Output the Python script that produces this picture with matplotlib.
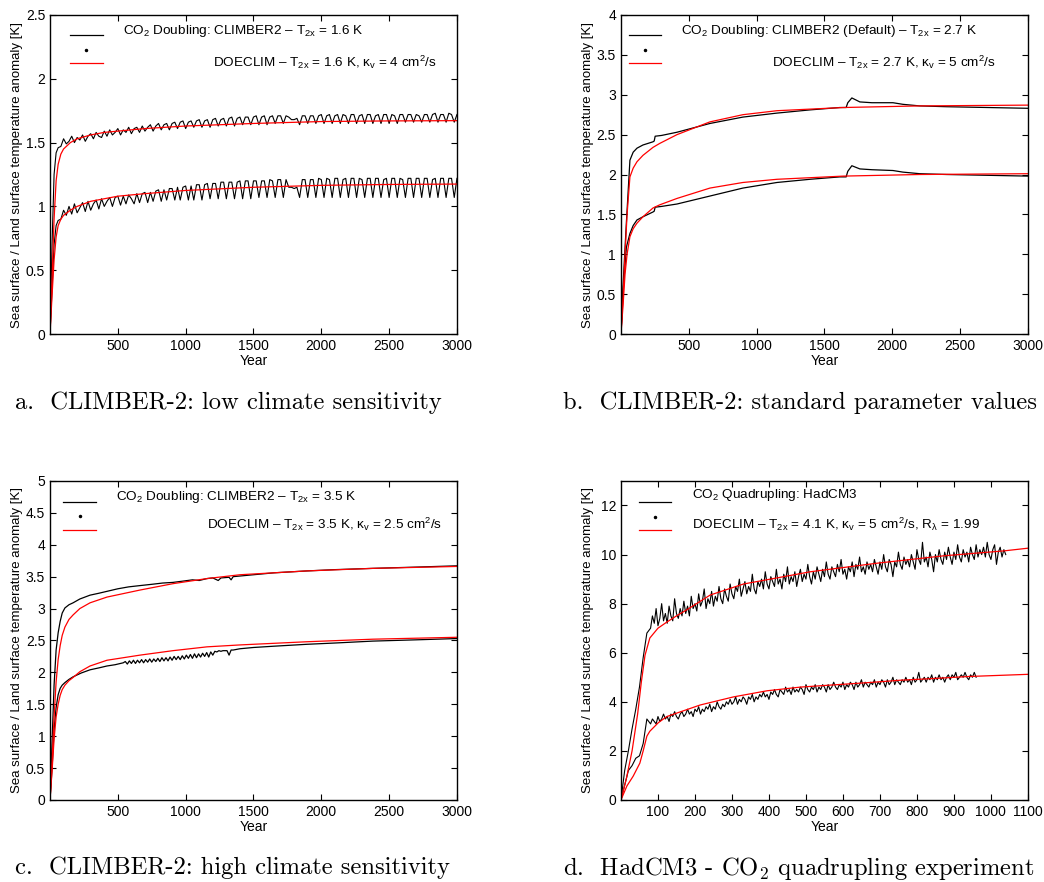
import numpy as np
import matplotlib.pyplot as plt
from matplotlib.lines import Line2D

plt.rcParams['font.family'] = ['Liberation Sans', 'DejaVu Sans']
plt.rcParams['mathtext.fontset'] = 'custom'
plt.rcParams['mathtext.rm'] = 'Liberation Sans'
plt.rcParams['mathtext.it'] = 'Liberation Sans:italic'
plt.rcParams['mathtext.bf'] = 'Liberation Sans:bold'
plt.rcParams['mathtext.sf'] = 'Liberation Sans'

# ---------------- panel a: CLIMBER-2 low sensitivity ----------------
a_years = [0, 15, 30, 45, 60] + list(range(80, 3001, 20))
a_black_hi = [0, 0.70, 1.25, 1.42, 1.46,
              1.47, 1.53, 1.49, 1.51, 1.55, 1.50, 1.54, 1.52, 1.56, 1.51,
              1.55, 1.57, 1.53, 1.58, 1.55, 1.54, 1.59, 1.55, 1.60, 1.56,
              1.58, 1.61, 1.56, 1.60, 1.58, 1.62, 1.57, 1.61, 1.62, 1.58,
              1.63, 1.59, 1.62, 1.64, 1.59, 1.63, 1.65, 1.60, 1.64, 1.65,
              1.60, 1.65, 1.66, 1.61, 1.66, 1.67, 1.61, 1.66, 1.67, 1.62,
              1.67, 1.68, 1.62, 1.67, 1.68, 1.62, 1.68, 1.69, 1.63, 1.68,
              1.69, 1.63, 1.69, 1.70, 1.63, 1.69, 1.70, 1.64, 1.70, 1.70,
              1.64, 1.70, 1.71, 1.64, 1.70, 1.71, 1.64, 1.70, 1.71, 1.65,
              1.71, 1.71, 1.65, 1.71, 1.70, 1.68, 1.68, 1.69, 1.64, 1.71,
              1.71, 1.65, 1.71, 1.71, 1.65, 1.71, 1.72, 1.65, 1.71, 1.72,
              1.65, 1.71, 1.72, 1.65, 1.72, 1.71, 1.65, 1.72, 1.72, 1.65,
              1.71, 1.72, 1.65, 1.72, 1.72, 1.65, 1.71, 1.72, 1.65, 1.72,
              1.72, 1.65, 1.72, 1.71, 1.65, 1.72, 1.72, 1.66, 1.72, 1.72,
              1.66, 1.72, 1.71, 1.66, 1.72, 1.72, 1.66, 1.72, 1.73, 1.66,
              1.72, 1.72, 1.66, 1.73, 1.72, 1.66, 1.72]
a_black_lo = [0, 0.35, 0.70, 0.85, 0.89,
              0.90, 0.97, 0.93, 1.00, 0.94, 1.02, 0.95, 0.99, 1.03, 0.96,
              1.04, 0.97, 1.02, 1.05, 0.98, 1.06, 1.00, 1.04, 1.07, 1.00,
              1.07, 1.08, 1.01, 1.08, 1.02, 1.09, 1.06, 1.02, 1.10, 1.03,
              1.10, 1.11, 1.03, 1.11, 1.04, 1.12, 1.13, 1.04, 1.13, 1.05,
              1.14, 1.14, 1.05, 1.15, 1.05, 1.15, 1.16, 1.05, 1.16, 1.05,
              1.17, 1.17, 1.05, 1.17, 1.18, 1.06, 1.18, 1.18, 1.06, 1.19,
              1.19, 1.06, 1.19, 1.19, 1.06, 1.19, 1.20, 1.06, 1.20, 1.20,
              1.06, 1.20, 1.20, 1.07, 1.20, 1.20, 1.07, 1.21, 1.20, 1.07,
              1.21, 1.21, 1.07, 1.21, 1.15, 1.15, 1.14, 1.15, 1.07, 1.21,
              1.21, 1.07, 1.21, 1.21, 1.07, 1.22, 1.21, 1.07, 1.22, 1.21,
              1.07, 1.22, 1.22, 1.07, 1.21, 1.22, 1.07, 1.22, 1.22, 1.07,
              1.22, 1.21, 1.07, 1.22, 1.22, 1.07, 1.22, 1.22, 1.07, 1.21,
              1.22, 1.07, 1.22, 1.22, 1.07, 1.22, 1.21, 1.07, 1.22, 1.22,
              1.07, 1.22, 1.22, 1.07, 1.22, 1.22, 1.07, 1.21, 1.22, 1.07,
              1.22, 1.22, 1.07, 1.22, 1.22, 1.07, 1.22]
a_red_years = [0, 15, 30, 45, 60, 80, 100, 150, 200, 300, 400, 500, 700,
               1000, 1500, 2000, 2500, 3000]
a_red_hi = [0, 0.45, 0.90, 1.20, 1.33, 1.41, 1.45, 1.50, 1.53, 1.56, 1.58,
            1.59, 1.61, 1.63, 1.65, 1.665, 1.67, 1.672]
a_red_lo = [0, 0.30, 0.58, 0.76, 0.85, 0.90, 0.93, 0.97, 1.00, 1.04, 1.06,
            1.08, 1.10, 1.125, 1.15, 1.165, 1.172, 1.175]

# ---------------- panel b: CLIMBER-2 default ----------------
b_black_years = [0, 15, 40, 66, 90, 118, 162, 236, 245, 252, 300, 413, 656,
                 899, 1150, 1393, 1614, 1660, 1672, 1702, 1761, 1850, 2005,
                 2078, 2203, 2400, 2700, 3000]
b_black_hi = [0, 0.60, 1.40, 2.18, 2.28, 2.33, 2.37, 2.41, 2.42, 2.48, 2.49,
              2.53, 2.64, 2.72, 2.77, 2.81, 2.84, 2.84, 2.90, 2.96, 2.91,
              2.90, 2.90, 2.88, 2.86, 2.85, 2.84, 2.83]
b_black_lo = [0, 0.51, 1.09, 1.26, 1.36, 1.43, 1.47, 1.53, 1.54, 1.59, 1.60,
              1.63, 1.73, 1.83, 1.90, 1.94, 1.97, 1.97, 2.04, 2.11, 2.07,
              2.06, 2.05, 2.03, 2.01, 2.00, 1.99, 1.98]
b_red_years = [0, 15, 30, 45, 66, 90, 118, 162, 236, 286, 413, 656, 899,
               1150, 1640, 2200, 3000]
b_red_hi = [0, 0.45, 1.00, 1.50, 1.97, 2.08, 2.16, 2.24, 2.34, 2.39, 2.50,
            2.66, 2.75, 2.80, 2.84, 2.86, 2.87]
b_red_lo = [0, 0.35, 0.75, 1.00, 1.22, 1.32, 1.39, 1.47, 1.58, 1.62, 1.70,
            1.83, 1.90, 1.94, 1.98, 2.00, 2.01]

# ---------------- panel c: CLIMBER-2 high sensitivity ----------------
c_hi_years = [0, 15, 30, 45, 60, 75, 90, 110, 140, 170, 220, 295, 360, 420,
              500, 580, 663, 750, 830, 906, 980, 1050, 1100, 1157, 1200, 1240,
              1260, 1320, 1335, 1350, 1400, 1500, 1650, 1894, 2100, 2380,
              2700, 3000]
c_black_hi = [0, 0.90, 1.80, 2.35, 2.62, 2.80, 2.93, 3.01, 3.06, 3.09, 3.15,
              3.21, 3.24, 3.27, 3.31, 3.34, 3.36, 3.38, 3.40, 3.41, 3.43,
              3.45, 3.44, 3.47, 3.48, 3.44, 3.48, 3.49, 3.45, 3.50, 3.51,
              3.53, 3.56, 3.59, 3.61, 3.63, 3.65, 3.67]
c_lo_years = ([0, 15, 30, 45, 60, 75, 90, 110, 140, 170, 230, 295, 360, 420,
               480, 540] + list(range(555, 1351, 15)) +
              [1400, 1500, 1650, 1894, 2100, 2380, 2700, 3000])
c_black_lo = [0, 0.50, 1.10, 1.45, 1.65, 1.75, 1.80, 1.84, 1.89, 1.93, 1.99,
              2.04, 2.07, 2.10, 2.12, 2.15,
              2.17, 2.13, 2.18, 2.14, 2.19, 2.14, 2.19, 2.15, 2.20, 2.15,
              2.20, 2.16, 2.21, 2.16, 2.21, 2.17, 2.22, 2.17, 2.23, 2.18,
              2.23, 2.18, 2.24, 2.19, 2.25, 2.20, 2.25, 2.20, 2.26, 2.21,
              2.27, 2.22, 2.28, 2.22, 2.29, 2.23, 2.29, 2.24, 2.30, 2.25,
              2.31, 2.24, 2.32, 2.27, 2.33, 2.32, 2.34, 2.33, 2.34, 2.34,
              2.34, 2.27, 2.35, 2.35,
              2.37, 2.39, 2.41, 2.44, 2.46, 2.49, 2.51, 2.53]
c_red_years = [0, 15, 30, 45, 60, 75, 90, 110, 140, 170, 220, 295, 420, 663,
               906, 1157, 1400, 1894, 2380, 3000]
c_red_hi = [0, 0.60, 1.30, 1.85, 2.20, 2.42, 2.58, 2.71, 2.83, 2.90, 3.00,
            3.09, 3.18, 3.29, 3.39, 3.47, 3.53, 3.59, 3.63, 3.66]
c_red_lo = [0, 0.45, 0.95, 1.30, 1.50, 1.64, 1.73, 1.80, 1.87, 1.92, 2.01,
            2.10, 2.19, 2.27, 2.34, 2.40, 2.43, 2.48, 2.52, 2.55]

# ---------------- panel d: HadCM3 4xCO2 ----------------
d_hi_years = list(range(0, 71, 10)) + list(range(80, 1041, 5))
d_black_hi = [0, 1.2, 2.0, 2.9, 3.7, 4.6, 5.8, 6.8,
              7.0, 7.5, 7.2, 7.8, 7.1, 7.4, 8.0, 7.3, 7.6, 7.2,
              7.9, 7.5, 7.3, 8.2, 7.6, 7.4, 7.8, 7.5, 8.1, 7.6,
              7.9, 7.5, 8.3, 7.8, 8.0, 7.7, 8.4, 7.9, 8.1, 8.6,
              7.8, 8.2, 8.0, 8.5, 7.9, 8.3, 8.1, 8.7, 8.2, 8.0,
              8.6, 8.3, 8.1, 8.8, 8.4, 8.2, 8.7, 8.5, 9.0, 8.3,
              8.6, 8.9, 8.4, 8.7, 8.5, 9.2, 8.6, 8.4, 8.9, 8.7,
              9.0, 8.6, 9.3, 8.8, 8.6, 9.1, 8.9, 8.7, 9.4, 8.8,
              9.0, 8.6, 9.2, 8.9, 9.5, 8.8, 9.1, 8.9, 9.3, 8.7,
              9.1, 9.4, 8.9, 9.2, 9.0, 9.6, 9.1, 8.8, 9.3, 9.0,
              9.5, 9.2, 8.9, 9.4, 9.1, 9.7, 9.2, 9.0, 9.5, 9.3,
              9.1, 9.6, 9.3, 9.8, 9.2, 9.4, 9.0, 9.5, 9.3, 9.7,
              9.1, 9.6, 9.4, 9.9, 9.3, 9.5, 9.2, 9.7, 9.4, 9.6,
              9.3, 9.8, 9.5, 9.2, 9.7, 9.4, 10.0, 9.5, 9.3, 9.8,
              9.6, 9.1, 9.7, 9.5, 10.1, 9.6, 9.4, 9.9, 9.6, 9.8,
              9.5, 10.0, 9.7, 9.4, 10.2, 9.8, 9.6, 10.5, 9.7, 9.9,
              9.5, 10.1, 9.8, 9.3, 10.0, 9.7, 10.2, 9.8, 9.6, 10.1,
              9.8, 10.3, 9.9, 9.6, 10.1, 9.8, 10.4, 9.9, 9.7, 10.2,
              9.9, 10.1, 9.7, 10.3, 10.0, 9.8, 10.4, 9.9, 10.2, 10.0,
              10.3, 9.9, 10.5, 10.0, 9.8, 10.2, 10.4, 9.6, 10.1, 10.3,
              9.9, 10.2, 10.0]
d_lo_years = list(range(0, 71, 10)) + list(range(80, 961, 5))
d_black_lo = [0, 0.6, 1.2, 1.4, 1.7, 1.8, 2.3, 3.3,
              3.1, 3.3, 3.2, 3.1, 3.4, 3.2, 3.3, 3.5, 3.3, 3.4,
              3.2, 3.5, 3.4, 3.6, 3.4, 3.3, 3.5, 3.6, 3.4, 3.5,
              3.7, 3.5, 3.6, 3.4, 3.7, 3.6, 3.8, 3.5, 3.7, 3.6,
              3.8, 3.7, 3.9, 3.6, 3.8, 3.7, 4.0, 3.8, 3.7, 3.9,
              3.8, 4.0, 3.9, 4.1, 3.9, 4.0, 4.2, 3.9, 4.1, 4.0,
              4.2, 4.1, 3.9, 4.2, 4.1, 4.3, 4.0, 4.2, 4.1, 4.3,
              4.2, 4.4, 4.2, 4.3, 4.1, 4.4, 4.3, 4.5, 4.3, 4.2,
              4.5, 4.4, 4.3, 4.6, 4.4, 4.5, 4.3, 4.6, 4.4, 4.5,
              4.4, 4.6, 4.5, 4.3, 4.7, 4.5, 4.4, 4.6, 4.5, 4.7,
              4.4, 4.6, 4.5, 4.7, 4.6, 4.4, 4.7, 4.5, 4.6, 4.8,
              4.6, 4.5, 4.7, 4.6, 4.8, 4.5, 4.7, 4.6, 4.8, 4.7,
              4.5, 4.8, 4.6, 4.7, 4.9, 4.6, 4.8, 4.7, 4.6, 4.8,
              4.7, 4.9, 4.6, 4.8, 4.7, 4.9, 4.8, 4.6, 4.9, 4.7,
              4.8, 5.0, 4.7, 4.9, 4.8, 4.7, 4.9, 4.8, 5.0, 4.8,
              4.9, 4.7, 5.0, 4.8, 4.9, 5.2, 4.8, 4.9, 5.0, 4.8,
              5.0, 4.9, 5.1, 4.8, 5.0, 4.9, 5.1, 4.9, 5.0, 4.8,
              5.0, 5.1, 4.9, 5.1, 5.0, 5.2, 4.9, 5.0, 5.1, 5.0,
              5.2, 5.0, 4.9, 5.1, 5.0, 5.2, 5.0]
d_red_years_hi = [0, 15, 30, 45, 55, 65, 78, 100, 124, 150, 178, 241, 331,
                  422, 512, 693, 873, 1035, 1100]
d_red_hi = [0, 0.9, 2.0, 3.5, 4.8, 5.9, 6.6, 7.0, 7.25, 7.5, 7.75, 8.35,
            8.8, 9.05, 9.3, 9.65, 9.95, 10.15, 10.26]
d_red_years_lo = [0, 16, 33, 51, 60, 70, 78, 101, 124, 214, 304, 395, 485,
                  575, 666, 756, 846, 937, 1100]
d_red_lo = [0, 0.57, 0.97, 1.5, 2.0, 2.6, 2.8, 3.15, 3.4, 3.87, 4.2, 4.45,
            4.6, 4.69, 4.78, 4.88, 4.95, 5.03, 5.12]

ylab = 'Sea surface / Land surface temperature anomaly [K]'
cap_font = dict(fontfamily='cmr10', fontsize=17.7, math_fontfamily='cm')


def add_key(ax, xl, yl, text1, t1, text2, t2):
    # legend drawn by hand, MATLAB style
    ax.add_line(Line2D(xl, [yl[0]] * 2, color='black', lw=0.9,
                       transform=ax.transAxes))
    ax.plot([sum(xl) / 2], [yl[1]], 'k.', ms=3, transform=ax.transAxes)
    ax.add_line(Line2D(xl, [yl[2]] * 2, color='red', lw=0.9,
                       transform=ax.transAxes))
    ax.text(t1[0], t1[1], text1, transform=ax.transAxes, fontsize=9.7,
            va='center')
    ax.text(t2[0], t2[1], text2, transform=ax.transAxes, fontsize=9.7,
            va='center')


def style(ax, xlim, ylim, xticks, yticks):
    ax.set_xlim(xlim)
    ax.set_ylim(ylim)
    ax.set_xticks(xticks)
    ax.set_yticks(yticks)
    ax.tick_params(direction='in', top=True, right=True, length=4,
                   labelsize=10, width=0.8)
    for s in ax.spines.values():
        s.set_linewidth(1.0)
    ax.set_xlabel('Year', fontsize=10, labelpad=1)
    ax.set_ylabel(ylab, fontsize=9.5)
    ax.yaxis.set_label_coords(-0.066, 0.5)


fig = plt.figure(figsize=(10.44, 8.82), dpi=100)
ax_a = fig.add_axes([0.0479, 0.6213, 0.3898, 0.3617])
ax_b = fig.add_axes([0.5948, 0.6213, 0.3898, 0.3617])
ax_c = fig.add_axes([0.0479, 0.0930, 0.3898, 0.3617])
ax_d = fig.add_axes([0.5948, 0.0930, 0.3898, 0.3617])

lw = 0.9
# a
ax_a.plot(a_years, a_black_hi, color='black', lw=0.8)
ax_a.plot(a_years, a_black_lo, color='black', lw=0.8)
ax_a.plot(a_red_years, a_red_hi, color='red', lw=lw)
ax_a.plot(a_red_years, a_red_lo, color='red', lw=lw)
style(ax_a, (0, 3000), (0, 2.5), range(500, 3001, 500),
      [0, 0.5, 1, 1.5, 2, 2.5])
ax_a.set_yticklabels(['0', '0.5', '1', '1.5', '2', '2.5'])
add_key(ax_a, [0.049, 0.130], [0.937, 0.890, 0.850],
        r'CO$_{\mathrm{2}}$ Doubling: CLIMBER2 – T$_{\mathrm{2x}}$ = 1.6 K',
        (0.179, 0.950),
        r'DOECLIM – T$_{\mathrm{2x}}$ = 1.6 K, κ$_{\mathrm{v}}$ = 4 cm$^{\mathrm{2}}$/s',
        (0.400, 0.853))

# b
ax_b.plot(b_black_years, b_black_hi, color='black', lw=lw)
ax_b.plot(b_black_years, b_black_lo, color='black', lw=lw)
ax_b.plot(b_red_years, b_red_hi, color='red', lw=lw)
ax_b.plot(b_red_years, b_red_lo, color='red', lw=lw)
style(ax_b, (0, 3000), (0, 4), range(500, 3001, 500),
      [0, 0.5, 1, 1.5, 2, 2.5, 3, 3.5, 4])
ax_b.set_yticklabels(['0', '0.5', '1', '1.5', '2', '2.5', '3', '3.5', '4'])
add_key(ax_b, [0.020, 0.098], [0.937, 0.890, 0.850],
        r'CO$_{\mathrm{2}}$ Doubling: CLIMBER2 (Default) – T$_{\mathrm{2x}}$ = 2.7 K',
        (0.147, 0.950),
        r'DOECLIM – T$_{\mathrm{2x}}$ = 2.7 K, κ$_{\mathrm{v}}$ = 5 cm$^{\mathrm{2}}$/s',
        (0.371, 0.853))

# c
ax_c.plot(c_hi_years, c_black_hi, color='black', lw=lw)
ax_c.plot(c_lo_years, c_black_lo, color='black', lw=lw)
ax_c.plot(c_red_years, c_red_hi, color='red', lw=lw)
ax_c.plot(c_red_years, c_red_lo, color='red', lw=lw)
style(ax_c, (0, 3000), (0, 5), range(500, 3001, 500),
      [0, 0.5, 1, 1.5, 2, 2.5, 3, 3.5, 4, 4.5, 5])
ax_c.set_yticklabels(['0', '0.5', '1', '1.5', '2', '2.5', '3', '3.5', '4',
                      '4.5', '5'])
add_key(ax_c, [0.032, 0.113], [0.934, 0.890, 0.846],
        r'CO$_{\mathrm{2}}$ Doubling: CLIMBER2 – T$_{\mathrm{2x}}$ = 3.5 K',
        (0.162, 0.950),
        r'DOECLIM – T$_{\mathrm{2x}}$ = 3.5 K, κ$_{\mathrm{v}}$ = 2.5 cm$^{\mathrm{2}}$/s',
        (0.386, 0.865))

# d
ax_d.plot(d_hi_years, d_black_hi, color='black', lw=0.8)
ax_d.plot(d_lo_years, d_black_lo, color='black', lw=0.8)
ax_d.plot(d_red_years_hi, d_red_hi, color='red', lw=lw)
ax_d.plot(d_red_years_lo, d_red_lo, color='red', lw=lw)
style(ax_d, (0, 1100), (0, 13), range(100, 1101, 100), range(0, 13, 2))
add_key(ax_d, [0.044, 0.123], [0.934, 0.887, 0.846],
        r'CO$_{\mathrm{2}}$ Quadrupling: HadCM3',
        (0.174, 0.955),
        r'DOECLIM – T$_{\mathrm{2x}}$ = 4.1 K, κ$_{\mathrm{v}}$ = 5 cm$^{\mathrm{2}}$/s, R$_{\mathrm{\lambda}}$ = 1.99',
        (0.174, 0.865))

# captions
fig.text(15 / 1044, 1 - 403 / 882, 'a.  CLIMBER-2: low climate sensitivity',
         va='center', **cap_font)
fig.text(563 / 1044, 1 - 403 / 882, 'b.  CLIMBER-2: standard parameter values',
         va='center', **cap_font)
fig.text(15 / 1044, 1 - 868 / 882, 'c.  CLIMBER-2: high climate sensitivity',
         va='center', **cap_font)
fig.text(563 / 1044, 1 - 868 / 882,
         r'd.  HadCM3 - CO$_2$ quadrupling experiment',
         va='center', **cap_font)

fig.savefig('out.png', dpi=100)
